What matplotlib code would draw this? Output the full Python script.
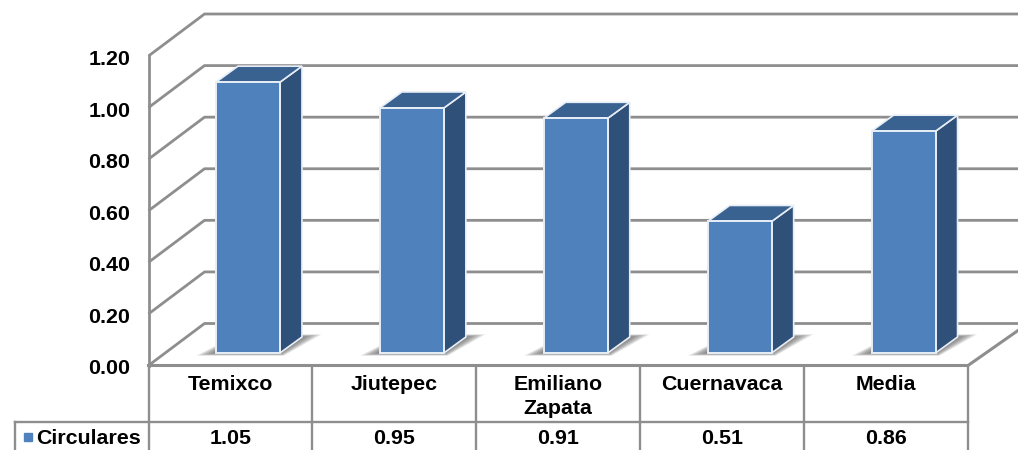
import matplotlib
matplotlib.use('Agg')
import matplotlib.pyplot as plt
from matplotlib.transforms import blended_transform_factory, ScaledTranslation

categories = ['Temixco', 'Jiutepec', 'Emiliano\nZapata', 'Cuernavaca', 'Media']
values = [1.05, 0.95, 0.91, 0.51, 0.86]
value_labels = ['1.05', '0.95', '0.91', '0.51', '0.86']
series_name = 'Circulares'
yticks = [0.0, 0.2, 0.4, 0.6, 0.8, 1.0, 1.2]

W, H = 1018, 450
LEFT, RIGHT, BOTTOM, TOP = 148.5, 968.0, 365.5, 56.0
FONT = 'Liberation Sans'
FS = 15.4
GRID = '#8e8e8e'
FRONT = '#4f81bd'
TOPC = '#3a6291'
SIDE = '#2f5078'

fig = plt.figure(figsize=(W / 100, H / 100), dpi=100, facecolor='white')
ax = fig.add_axes([LEFT / W, (H - BOTTOM) / H, (RIGHT - LEFT) / W, (BOTTOM - TOP) / H])
ax.set_xlim(-0.5, 4.5)
ax.set_ylim(0, 1.2)
ax.patch.set_visible(False)
for s in ax.spines.values():
    s.set_visible(False)

px_x = 5 / (RIGHT - LEFT)
px_y = 1.2 / (BOTTOM - TOP)
DX = 56 * px_x
DY = 42 * px_y
xmax = -0.5 + (W - LEFT) * px_x + 0.01

# walls and floor
for v in yticks:
    ax.plot([-0.5, -0.5 + DX, xmax], [v, v + DY, v + DY], color=GRID, lw=2.0,
            clip_on=False, zorder=1, solid_capstyle='butt')
ax.plot([-0.5, -0.5], [0, 1.2], color=GRID, lw=2.0, clip_on=False, zorder=1.5)
ax.plot([-0.5, 4.5, 4.5 + 50 * px_x], [0, 0, 35 * px_y], color=GRID, lw=2.2,
        clip_on=False, zorder=1.5)

# bars
shift_x, shift_y = 17.5 * px_x, 12.5 * px_y
depth_x, depth_y = 22 * px_x, 16 * px_y
width = 64 * px_x
for i, v in enumerate(values):
    x0 = i + shift_x - width / 2
    x1 = x0 + width
    b = shift_y
    t = b + v
    # soft shadow on the floor
    for k in range(9, 0, -1):
        g = k * 2.2 * px_x
        e = k * 0.3 * px_y
        ax.fill([x0 - g, x1 + g * 0.2, x1 + depth_x + g, x0 + depth_x],
                [b - e, b - e, b + depth_y + e, b + depth_y + e],
                color='#505050', alpha=0.11, lw=0, zorder=2, clip_on=False)
    ax.bar(x0 + width / 2, v, width, bottom=b, color=FRONT, edgecolor='#e8eef6',
           linewidth=1.4, zorder=4, clip_on=False)
    ax.fill([x1, x1 + depth_x, x1 + depth_x, x1], [b, b + depth_y, t + depth_y, t],
            facecolor=SIDE, edgecolor='#e8eef6', lw=1.2, zorder=3, clip_on=False)
    ax.fill([x0, x1, x1 + depth_x, x0 + depth_x], [t, t, t + depth_y, t + depth_y],
            facecolor=TOPC, edgecolor='#e8eef6', lw=1.2, zorder=3, clip_on=False)

ax.set_yticks(yticks)
ax.set_yticklabels(['%.2f' % v for v in yticks], fontsize=FS, fontweight='bold', family=FONT)
ax.set_xticks(range(len(categories)))
ax.set_xticklabels(categories, fontsize=FS, fontweight='bold', family=FONT, linespacing=1.3)
ax.tick_params(axis='y', length=0, pad=13)
ax.tick_params(axis='x', length=0, pad=7)
nudge = ScaledTranslation(0, -1.5 / 100, fig.dpi_scale_trans)
for lab in ax.get_yticklabels():
    lab.set_transform(lab.get_transform() + nudge)

# data table under the axis
tr = blended_transform_factory(ax.transData, fig.transFigure)
fy = lambda py: (H - py) / H
for i in range(len(categories) + 1):
    ax.plot([i - 0.5, i - 0.5], [fy(BOTTOM), 0], transform=tr, color=GRID, lw=1.7,
            clip_on=False, zorder=1)
left_edge = -0.5 - (LEFT - 14.5) * px_x
ax.plot([left_edge, 4.5], [fy(421.5), fy(421.5)], transform=tr, color=GRID, lw=1.7, clip_on=False)
ax.plot([left_edge, left_edge], [fy(421.5), 0], transform=tr, color=GRID, lw=1.7, clip_on=False)
for i, label in enumerate(value_labels):
    ax.text(i, fy(438.5), label, transform=tr, ha='center', va='center', fontsize=FS,
            fontweight='bold', family=FONT, clip_on=False)
ax.text(-0.5 - 112 * px_x, fy(438.5), series_name, transform=tr, ha='left', va='center',
        fontsize=FS, fontweight='bold', family=FONT, clip_on=False)
ax.plot([-0.5 - 121 * px_x], [fy(437)], transform=tr, marker='s', ms=6, color=FRONT,
        clip_on=False, lw=0)

fig.savefig('out.png', dpi=100)
